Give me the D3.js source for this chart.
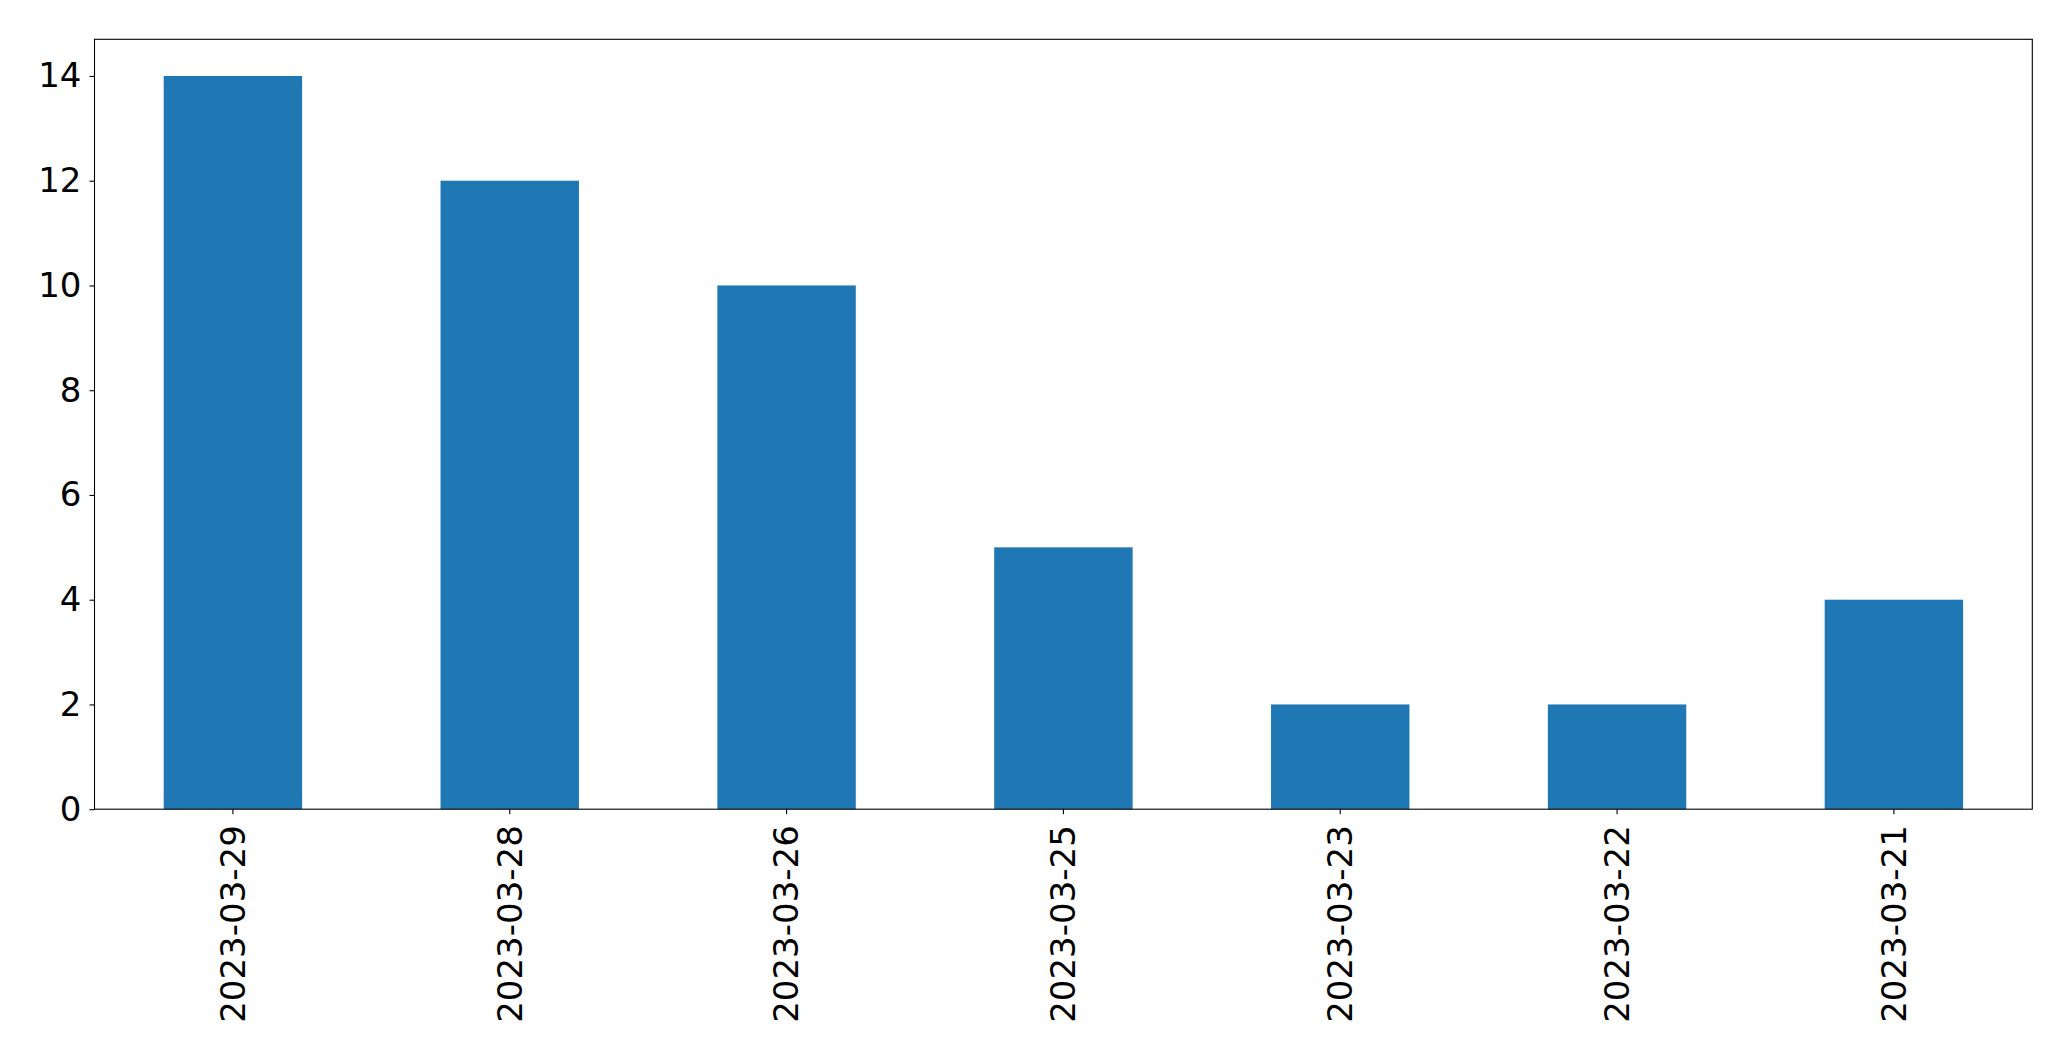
<!DOCTYPE html>
<html><head><meta charset="utf-8">
<script src="https://cdn.jsdelivr.net/npm/d3@7"></script>
<style>html,body{margin:0;padding:0;background:#fff;}svg{display:block;}</style>
</head><body>
<script>
const categories = ["2023-03-29","2023-03-28","2023-03-26","2023-03-25","2023-03-23","2023-03-22","2023-03-21"];
const values = [14, 12, 10, 5, 2, 2, 4];
const yTicks = [0, 2, 4, 6, 8, 10, 12, 14];

const W = 2071, H = 1061;
const m = {left: 94.5, right: 2032.3, top: 39.3, bottom: 809.2};
const svg = d3.select("body").append("svg").attr("width", W).attr("height", H);

const x = d3.scaleBand().domain(categories).range([m.left, m.right]).paddingInner(0.5).paddingOuter(0.25);
const y = d3.scaleLinear().domain([0, 14.7]).range([m.bottom, m.top]);

svg.append("g").selectAll("rect").data(values).join("rect")
  .attr("x", (d,i) => x(categories[i]))
  .attr("width", x.bandwidth())
  .attr("y", d => y(d))
  .attr("height", d => y(0) - y(d))
  .attr("fill", "#1f77b4");

const font = "'DejaVu Sans', sans-serif";

const ya = svg.append("g").attr("transform", `translate(${m.left},0)`)
  .call(d3.axisLeft(y).tickValues(yTicks).tickSize(5).tickPadding(8).tickSizeOuter(0));
ya.select(".domain").remove();
ya.selectAll("text").attr("font-family", font).attr("font-size", 34).attr("fill", "#000");
ya.selectAll("line").attr("stroke", "#000").attr("stroke-width", 1.1);

const xa = svg.append("g").attr("transform", `translate(0,${m.bottom})`)
  .call(d3.axisBottom(x).tickSize(5).tickSizeOuter(0));
xa.select(".domain").remove();
xa.selectAll("line").attr("stroke", "#000").attr("stroke-width", 1.1);
xa.selectAll("text")
  .attr("font-family", font).attr("font-size", 34).attr("fill", "#000")
  .attr("transform", "rotate(-90)")
  .attr("x", -16).attr("y", 0).attr("dy", "0.35em")
  .attr("text-anchor", "end");

svg.append("rect").attr("x", m.left).attr("y", m.top)
  .attr("width", m.right - m.left).attr("height", m.bottom - m.top)
  .attr("fill", "none").attr("stroke", "#000").attr("stroke-width", 1.1);
</script>
</body></html>
